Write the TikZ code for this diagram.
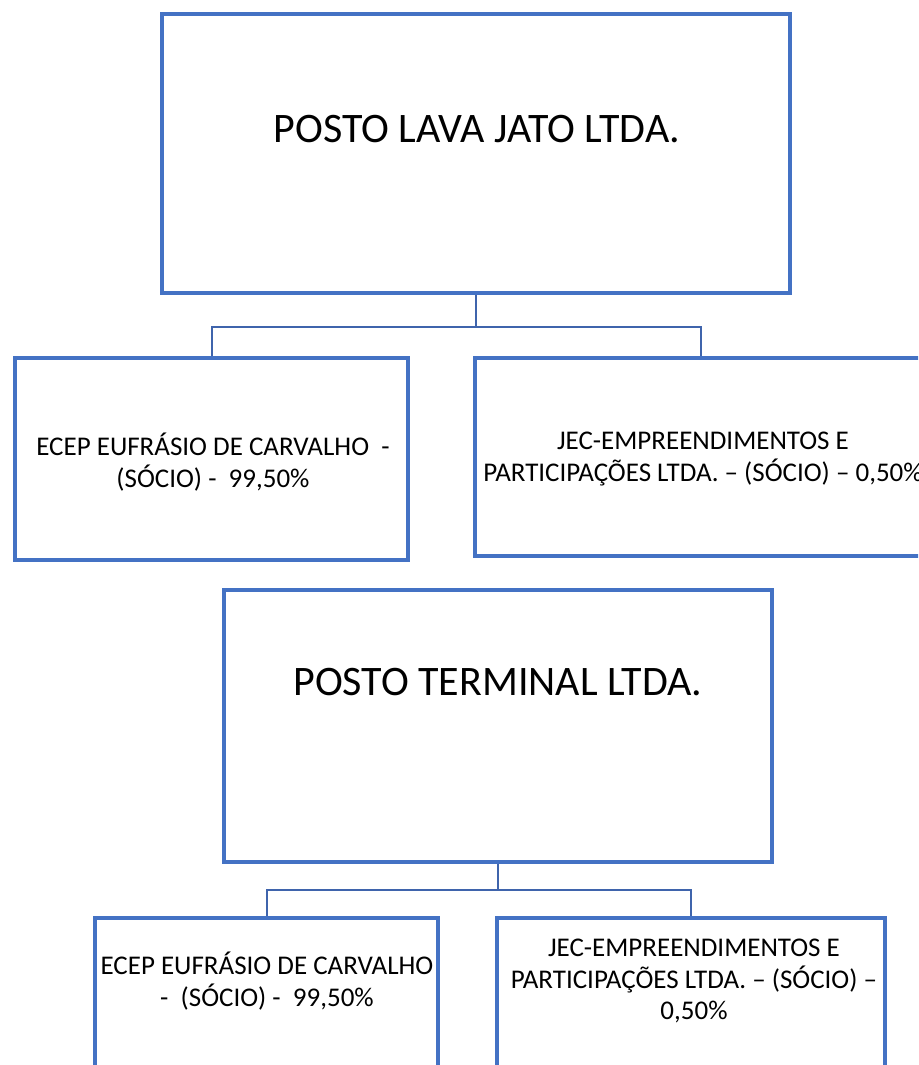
\documentclass[tikz,border=0pt]{standalone}
\usepackage{fontspec}
\setmainfont{Carlito}
\definecolor{obl}{HTML}{4472C4}
\definecolor{cbl}{HTML}{3F64AC}
\begin{document}
\begin{tikzpicture}[x=1pt,y=-1pt,
  box/.style={draw=obl,line width=3.5pt,fill=none,inner sep=0pt},
  conn/.style={draw=cbl,line width=2pt},
  big/.style={font=\fontsize{42}{51}\selectfont,inner sep=0pt,anchor=center},
  small/.style={font=\fontsize{27}{31.5}\selectfont,align=center,inner sep=0pt,anchor=center}]
\useasboundingbox (0,0) rectangle (918,1065);
\clip (0,0) rectangle (918,1065);
% top group
\node[box,minimum width=628pt,minimum height=279pt] (p1) at (476,153.5) {};
\node[big] (t1) at (477,129) {POSTO LAVA JATO LTDA.};
\node[box,minimum width=393pt,minimum height=202pt] (a1) at (211.5,459) {};
\node[box,minimum width=452pt,minimum height=198pt] (b1) at (701,457) {};
\node[small] (ta1) at (213,462) {ECEP EUFRÁSIO DE CARVALHO~~-\\(SÓCIO) -~~99,50\%};
\node[small] (tb1) at (703,459) {JEC-EMPREENDIMENTOS E\\PARTICIPAÇÕES LTDA. – (SÓCIO) – 0,50\%};
\coordinate (j1) at (476,327);
\draw[conn] (p1.south) -- (j1);
\draw[conn] (a1.north) |- (j1) -| (b1.north);
% bottom group
\node[box,minimum width=548pt,minimum height=272pt] (p2) at (498,726) {};
\node[big] (t2) at (498,682) {POSTO TERMINAL LTDA.};
\node[box,minimum width=343pt,minimum height=200pt] (a2) at (266.5,1018) {};
\node[box,minimum width=388pt,minimum height=200pt] (b2) at (691,1018) {};
\node[small] (ta2) at (267,981) {ECEP EUFRÁSIO DE CARVALHO\\-~~(SÓCIO) -~~99,50\%};
\node[small] (tb2) at (694,981) {JEC-EMPREENDIMENTOS E\\PARTICIPAÇÕES LTDA. – (SÓCIO) –\\0,50\%};
\coordinate (j2) at (498,890);
\draw[conn] (p2.south) -- (j2);
\draw[conn] (a2.north) |- (j2) -| (b2.north);
\end{tikzpicture}
\end{document}
